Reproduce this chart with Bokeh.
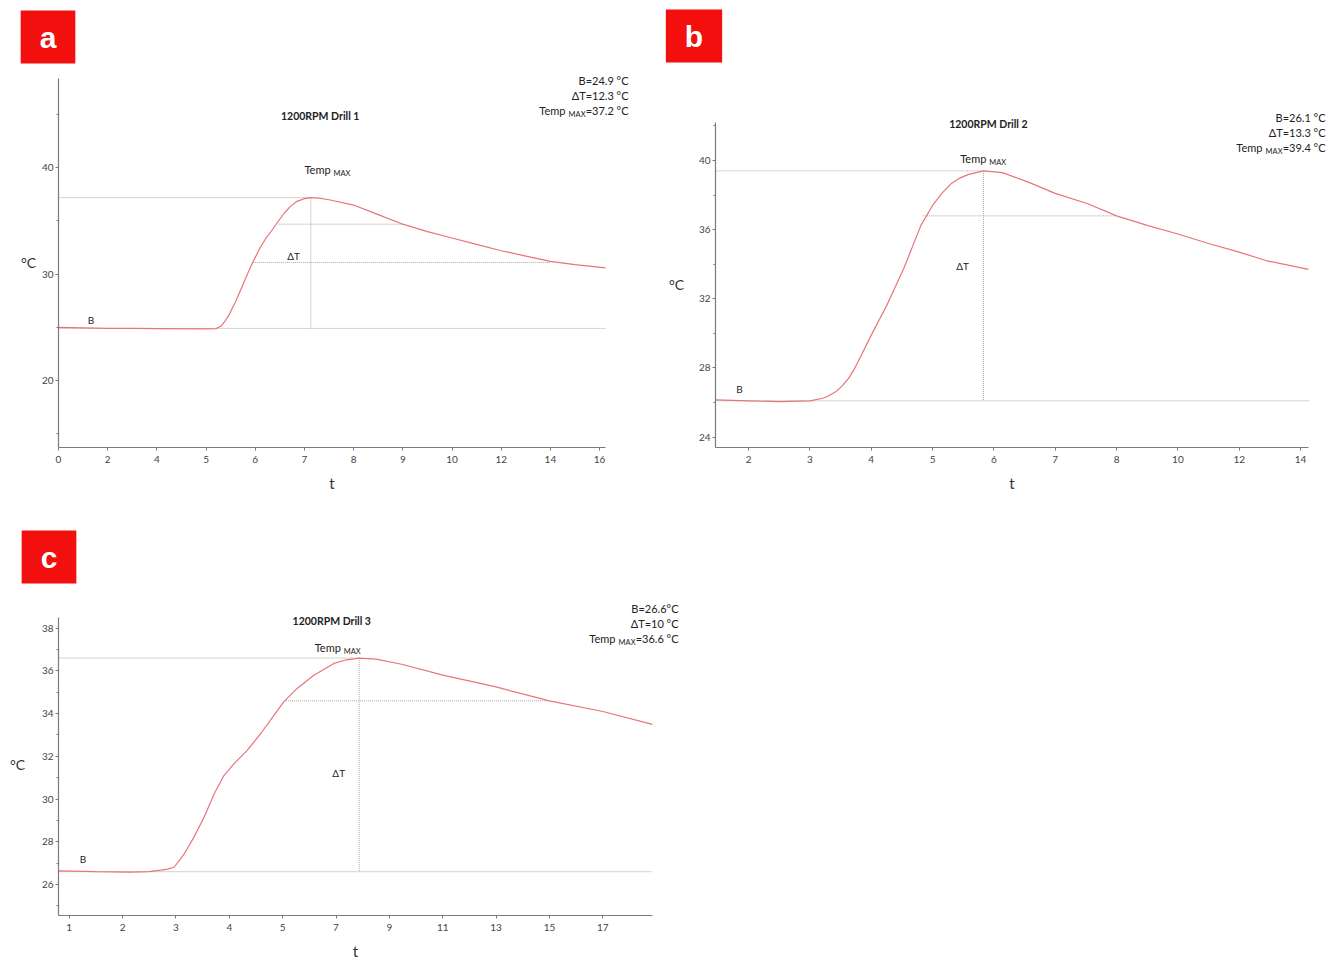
import numpy as np
from bokeh.plotting import figure
from bokeh.layouts import column, row
from bokeh.models import FixedTicker, Label, Range1d
from bokeh.embed import file_html
from bokeh.resources import INLINE

FONT = "Lato"
CURVE = "#e8747a"
GUIDE = "#a8a8a8"
RED = "#f40f0f"
AXIS = "#7a7a7a"

# ---------------- panel a : 1200RPM Drill 1 ----------------
a_ticks = [0, 2, 4, 5, 6, 7, 8, 9, 10, 12, 14, 16]
a_t = [0, 1, 2, 3, 4, 5, 5.2, 5.3, 5.38, 5.47, 5.6, 5.72, 5.85, 5.97, 6.1, 6.22, 6.35,
       6.47, 6.6, 6.72, 6.85, 7.0, 7.13, 7.3, 7.5, 8, 8.5, 9, 9.5, 10, 11, 12,
       13, 14, 15, 16.24]
a_temp = [25.0, 24.95, 24.9, 24.9, 24.88, 24.85, 24.88, 25.1, 25.55, 26.2, 27.4, 28.7,
          30.1, 31.3, 32.5, 33.4, 34.2, 35.0, 35.8, 36.4, 36.85, 37.1, 37.2, 37.15,
          37.0, 36.5, 35.6, 34.7, 34.0, 33.4, 32.8, 32.2, 31.7, 31.2, 30.9, 30.6]
a_B, a_dT, a_Tmax, a_tpeak = 24.9, 12.3, 37.2, 7.13
a_levels = [34.7, 31.1]
a_level_from = [6.47, 5.95]
a_level_to = [9.0, 14.0]
a_trange = [0, 16.24]
a_yrange = [13.7, 48.4]
a_ymajor = [20, 30, 40]
a_yminor = [15, 25, 35, 45]

# ---------------- panel b : 1200RPM Drill 2 ----------------
b_ticks = [2, 3, 4, 5, 6, 7, 8, 10, 12, 14]
b_t = [1.46, 2, 2.5, 3, 3.21, 3.3, 3.42, 3.53, 3.63, 3.73, 3.84, 4.0, 4.25, 4.53,
       4.81, 5.0, 5.15, 5.3, 5.45, 5.59, 5.83, 6.14, 6.56, 7.0, 7.53, 8.0, 9.0, 10,
       11, 12, 12.9, 14.26]
b_temp = [26.15, 26.1, 26.05, 26.1, 26.25, 26.38, 26.62, 26.98, 27.4, 27.98, 28.75,
          29.9, 31.6, 33.75, 36.25, 37.4, 38.1, 38.65, 39.0, 39.2, 39.4, 39.3, 38.75,
          38.1, 37.5, 36.8, 36.25, 35.75, 35.2, 34.7, 34.2, 33.7]
b_B, b_dT, b_Tmax, b_tpeak = 26.1, 13.3, 39.4, 5.83
b_levels = [36.8]
b_level_from = [4.84]
b_level_to = [8.0]
b_trange = [1.46, 14.26]
b_yrange = [23.4, 42.2]
b_ymajor = [24, 28, 32, 36, 40]
b_yminor = [26, 30, 34, 38, 42]

# ---------------- panel c : 1200RPM Drill 3 ----------------
c_ticks = [1, 2, 3, 4, 5, 7, 9, 11, 13, 15, 17]
c_t = [0.8, 1.5, 2.14, 2.5, 2.72, 2.85, 2.97, 3.16, 3.34, 3.53, 3.72, 3.9, 4.09,
       4.34, 4.59, 4.84, 5.04, 5.54, 6.17, 6.92, 7.4, 7.87, 8.5, 9.5, 11, 13, 15,
       17, 18.86]
c_temp = [26.64, 26.6, 26.58, 26.6, 26.67, 26.72, 26.82, 27.45, 28.23, 29.16, 30.26,
          31.1, 31.66, 32.29, 33.07, 33.93, 34.55, 35.18, 35.8, 36.35, 36.52, 36.6,
          36.55, 36.3, 35.8, 35.25, 34.6, 34.1, 33.5]
c_B, c_dT, c_Tmax, c_tpeak = 26.6, 10, 36.6, 7.87
c_levels = [34.6]
c_level_from = [5.05]
c_level_to = [15.0]
c_trange = [0.8, 18.86]
c_yrange = [24.55, 38.5]
c_ymajor = [26, 28, 30, 32, 34, 36, 38]
c_yminor = [25, 27, 29, 31, 33, 35, 37]


def to_pos(t, ticks):
    """Piecewise-linear time scale: every labelled tick is one equal step."""
    t = np.atleast_1d(np.asarray(t, dtype=float))
    tk = np.asarray(ticks, dtype=float)
    idx = np.arange(len(tk), dtype=float)
    pos = np.interp(t, tk, idx)
    lo = t < tk[0]
    hi = t > tk[-1]
    pos[lo] = (t[lo] - tk[0]) / (tk[1] - tk[0])
    pos[hi] = idx[-1] + (t[hi] - tk[-1]) / (tk[-1] - tk[-2])
    return pos


def lab(p, x, y, text, size="10px", align="left", baseline="middle", bold=False,
        xo=0, yo=0, color="#222222", font=FONT, **kw):
    p.add_layout(Label(x=x, y=y, text=text, text_font=font, text_font_size=size,
                       text_align=align, text_baseline=baseline,
                       text_font_style="bold" if bold else "normal",
                       x_offset=xo, y_offset=yo, text_color=color, **kw))


def panel(tag, title, ticks, t, temp, B, Tmax, tpeak, levels, lev_from, lev_to,
          trange, yrange, ymaj, ymin, stats, L):
    # axis extents in scale units, and the canvas box (in pixels) they occupy
    x0, x1 = to_pos(trange, ticks)
    y0, y1 = yrange
    W, H = L["w"], L["h"]
    al, ar, at, ab = L["ax"]          # axis box: left, right, top, bottom (px)
    kx = (x1 - x0) / (ar - al)
    ky = (y1 - y0) / (ab - at)
    xr = Range1d(x0 - al * kx, x1 + (W - ar) * kx)
    yr = Range1d(y0 - (H - ab) * ky, y1 + at * ky)

    p = figure(width=W, height=H, output_backend="svg", toolbar_location=None,
               x_range=xr, y_range=yr,
               min_border_left=0, min_border_right=0,
               min_border_top=0, min_border_bottom=0)
    p.outline_line_color = None
    p.grid.visible = False
    p.background_fill_color = "white"
    p.border_fill_color = "white"

    xa = p.xaxis[0]
    xa.ticker = FixedTicker(ticks=list(range(len(ticks))), minor_ticks=[])
    xa.major_label_overrides = {i: str(v) for i, v in enumerate(ticks)}
    xa.fixed_location = y0
    xa.bounds = (x0, x1)
    xa.axis_label = "t"
    xa.axis_label_text_font = FONT
    xa.axis_label_text_font_size = "15px"
    xa.axis_label_text_font_style = "normal"
    xa.axis_label_text_color = "#333333"
    xa.axis_label_standoff = 8
    ya = p.yaxis[0]
    ya.ticker = FixedTicker(ticks=ymaj, minor_ticks=ymin)
    ya.fixed_location = x0
    ya.bounds = (y0, y1)
    for ax in (xa, ya):
        ax.axis_line_color = AXIS
        ax.axis_line_width = 1.2
        ax.major_tick_line_color = AXIS
        ax.minor_tick_line_color = AXIS
        ax.major_tick_out = 3
        ax.major_tick_in = 0
        ax.minor_tick_out = 2
        ax.minor_tick_in = 0
        ax.major_label_text_font = FONT
        ax.major_label_text_font_size = "10px"
        ax.major_label_text_color = "#444444"
    xa.major_label_standoff = 5
    ya.major_label_standoff = 2

    # guide lines
    dash = dict(line_color=GUIDE, line_width=1, line_dash="1 1")
    p.line([x0, x1], [B, B], **dash)
    pk = to_pos([tpeak], ticks)[0]
    p.line([x0, pk], [Tmax, Tmax], **dash)
    p.line([pk, pk], [Tmax, B], **dash)
    for lv, f, e in zip(levels, lev_from, lev_to):
        p.line(list(to_pos([f, e], ticks)), [lv, lv], **dash)
    # temperature curve
    p.line(to_pos(t, ticks), temp, line_color=CURVE, line_width=1.2)

    # in-plot annotations
    lab(p, to_pos([L["title_t"]], ticks)[0], L["title_y"], title, size="10.5px",
        align="center", bold=True)
    lab(p, to_pos([L["B_t"]], ticks)[0], L["B_y"], "B", size="10px", align="center")
    lab(p, to_pos([L["dT_t"]], ticks)[0], L["dT_y"], "ΔT", size="10px", align="center")
    tx = to_pos([L["tm_t"]], ticks)[0]
    lab(p, tx, L["tm_y"], "Temp", size="11px")
    lab(p, tx, L["tm_y"], "MAX", size="7.5px", xo=L["tm_w"], yo=-4)

    # stats block (top right of the axis box)
    sxo, syo = L["s_x"], L["s_y"]
    w1 = L["s_w1"]
    lab(p, x1, y1, stats[0], size="11px", align="right", xo=sxo, yo=syo)
    lab(p, x1, y1, stats[1], size="11px", align="right", xo=sxo, yo=syo - 15)
    lab(p, x1, y1, stats[2], size="11px", align="right", xo=sxo, yo=syo - 30)
    lab(p, x1, y1, "MAX", size="7.5px", align="right", xo=sxo - w1, yo=syo - 34)
    lab(p, x1, y1, "Temp", size="11px", align="right", xo=sxo - w1 - 20, yo=syo - 30)

    # y axis title
    lab(p, x0, L["c_y"], "°C", size="14px", align="center", xo=L["c_x"], color="#333333")

    # panel tag
    lab(p, x0, y1, tag, size="30px", align="center", bold=True, color="white",
        font="Liberation Sans", xo=L["tag_x"], yo=L["tag_y"],
        background_fill_color=RED, padding=(19, 19, 10, 10))
    return p


La = dict(w=655, h=505, ax=(58, 605, 78, 447),
          title_t=7.32, title_y=44.9, B_t=1.32, B_y=25.7, dT_t=6.78, dT_y=31.7,
          tm_t=7.0, tm_y=39.8, tm_w=29,
          s_x=23, s_y=-2, s_w1=43,
          c_x=-30, c_y=31.1, tag_x=-10.5, tag_y=41.5)
Lb = dict(w=680, h=505, ax=(60, 653, 122, 447),
          title_t=5.91, title_y=42.1, B_t=1.85, B_y=26.8, dT_t=5.49, dT_y=33.9,
          tm_t=5.45, tm_y=40.1, tm_w=29,
          s_x=17, s_y=5, s_w1=43,
          c_x=-39, c_y=32.85, tag_x=-21.5, tag_y=86.5)
Lc = dict(w=690, h=454, ax=(58, 652, 112, 410),
          title_t=6.84, title_y=38.35, B_t=1.26, B_y=27.2, dT_t=7.1, dT_y=31.2,
          tm_t=6.2, tm_y=37.1, tm_w=29,
          s_x=26, s_y=9, s_w1=43,
          c_x=-41, c_y=31.6, tag_x=-9.5, tag_y=60.5)

pa = panel("a", "1200RPM Drill 1", a_ticks, a_t, a_temp, a_B, a_Tmax, a_tpeak,
           a_levels, a_level_from, a_level_to, a_trange, a_yrange, a_ymajor, a_yminor,
           [f"B={a_B} °C", f"ΔT={a_dT} °C", f"={a_Tmax} °C"], La)
pb = panel("b", "1200RPM Drill 2", b_ticks, b_t, b_temp, b_B, b_Tmax, b_tpeak,
           b_levels, b_level_from, b_level_to, b_trange, b_yrange, b_ymajor, b_yminor,
           [f"B={b_B} °C", f"ΔT={b_dT} °C", f"={b_Tmax} °C"], Lb)
pc = panel("c", "1200RPM Drill 3", c_ticks, c_t, c_temp, c_B, c_Tmax, c_tpeak,
           c_levels, c_level_from, c_level_to, c_trange, c_yrange, c_ymajor, c_yminor,
           [f"B={c_B}°C", f"ΔT={c_dT} °C", f"={c_Tmax} °C"], Lc)

layout = column(row(pa, pb), pc)
open("out.html", "w").write(file_html(layout, INLINE))
